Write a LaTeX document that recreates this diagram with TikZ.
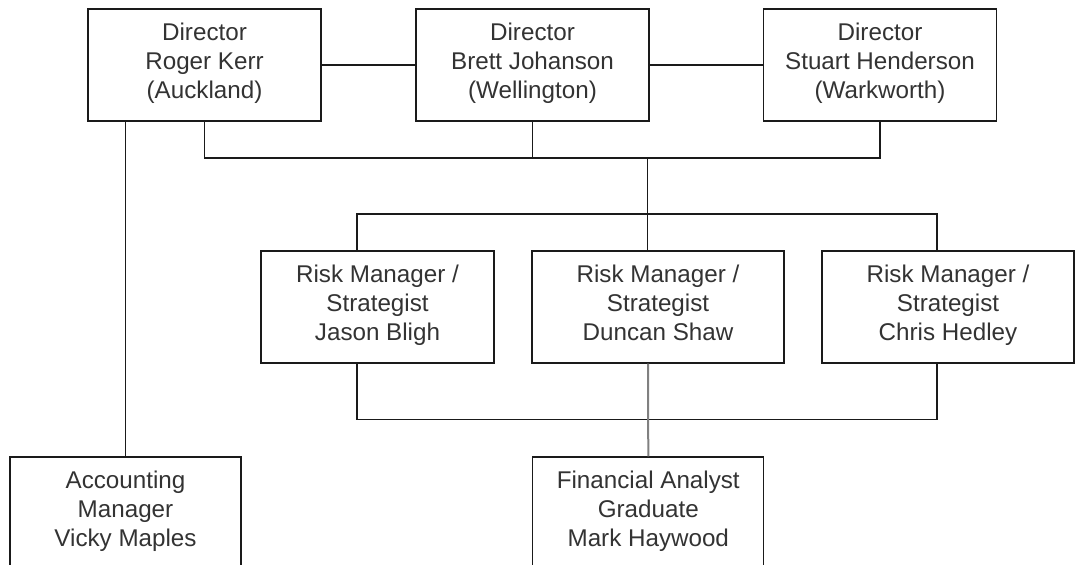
\documentclass[tikz,border=0pt]{standalone}
\usepackage{fontspec}
\setmainfont{Liberation Sans}
\usetikzlibrary{positioning}
\definecolor{boxline}{HTML}{1A1A1A}
\definecolor{linkgray}{HTML}{808080}

\begin{document}
\begin{tikzpicture}[x=1pt,y=-1pt,
    box/.style={draw=boxline, line width=1.1pt, fill=white, minimum width=233pt, minimum height=112pt, align=center, inner sep=0pt, font=\fontsize{24.2}{29}\selectfont, text=black!80},
    widebox/.style={box, minimum width=252pt},
    link/.style={draw=boxline, line width=1.1pt},
    graylink/.style={draw=linkgray, line width=2pt}
  ]
  \clip (0,0) rectangle (1077,565);
  % directors
  \node[box] (roger) at (204.5,65) {Director\\Roger Kerr\\(Auckland)\strut};
  \node[box] (brett) at (532.5,65) {Director\\Brett Johanson\\(Wellington)\strut};
  \node[box] (stuart) at (880,65) {Director\\Stuart Henderson\\(Warkworth)\strut};
  % risk managers
  \node[box] (jason) at (377.5,307) {Risk Manager /\\Strategist\\Jason Bligh\strut};
  \node[widebox] (duncan) at (658,307) {Risk Manager /\\Strategist\\Duncan Shaw\strut};
  \node[widebox] (chris) at (948,307) {Risk Manager /\\Strategist\\Chris Hedley\strut};
  % staff
  \node[box, minimum width=231pt] (accounting) at (125.5,513) {Accounting\\Manager\\Vicky Maples\strut};
  \node[box, minimum width=231pt] (financial) at (648.3,513) {Financial Analyst\\Graduate\\Mark Haywood\strut};
  \coordinate (topjoin) at (647.5,158);
  \coordinate (riskjoin) at (647.5,214);
  % connectors
  \draw[link] (roger) -- (brett);
  \draw[link] (brett) -- (stuart);
  \draw[link] (roger.south) |- (topjoin) -| (stuart.south);
  \draw[link] (brett.south) -- (brett.south |- topjoin);
  \draw[link] (topjoin) -- ([xshift=-10.5pt]duncan.north);
  \draw[link] ([xshift=-20.5pt]jason.north) |- (riskjoin) -| ([xshift=-11pt]chris.north);
  \draw[link] ([xshift=-20.5pt]jason.south) -- ++(0,56) -| ([xshift=-11pt]chris.south);
  \draw[graylink] ([xshift=-10pt]duncan.south) -- (financial.north);
  \draw[link] (accounting.north |- roger.south) -- (accounting.north);
\end{tikzpicture}
\end{document}
